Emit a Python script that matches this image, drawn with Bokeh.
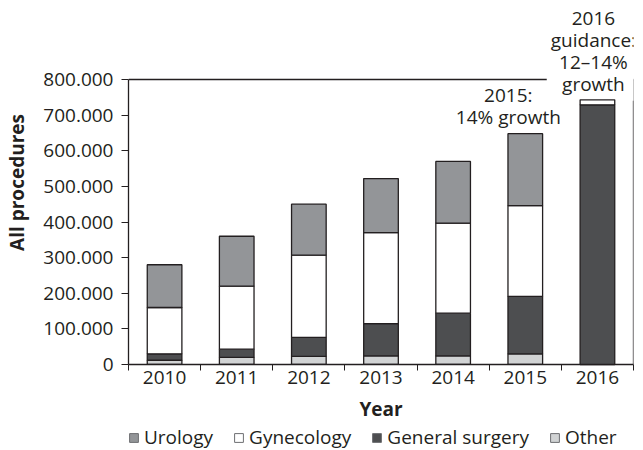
from bokeh.plotting import figure
from bokeh.layouts import column
from bokeh.models import (FixedTicker, Label, Legend, LegendItem, ColumnDataSource, Range1d)
from bokeh.embed import file_html
from bokeh.resources import INLINE

# ---- data ----
years = ["2010", "2011", "2012", "2013", "2014", "2015", "2016"]
other = [12000, 20000, 23000, 24000, 24000, 30000]
general_surgery = [18000, 23000, 53000, 91000, 120000, 161000]
gynecology = [130000, 177000, 231000, 255000, 253000, 255000]
urology = [120000, 140000, 143000, 152000, 173000, 202000]
guidance_low = 729000   # 2016 guidance, +12%
guidance_high = 743000  # 2016 guidance, +14%
y_ticks = [0, 100000, 200000, 300000, 400000, 500000, 600000, 700000, 800000]
y_tick_labels = ["0", "100.000", "200.000", "300.000", "400.000", "500.000",
                 "600.000", "700.000", "800.000"]
series_names = ["Other", "General surgery", "Gynecology", "Urology"]
series_colors = ["#d1d3d4", "#4d4e50", "#ffffff", "#939598"]
legend_order = ["Urology", "Gynecology", "General surgery", "Other"]
note_2015 = "2015:\n14% growth"
note_2016 = "2016\nguidance:\n12\u201314%\ngrowth"

INK = "#231f20"
FONT = "Open Sans"
FS = "19px"

# ---- layout constants (pixels) ----
W = 643
H_MAIN = 424
BORDER_L, BORDER_R, BORDER_B = 128, 10, 60
AXIS_TOP_PX = 79          # pixel row of the y-axis end (800.000)
plot_h = H_MAIN - BORDER_B
y_top = y_ticks[-1] * plot_h / (plot_h - AXIS_TOP_PX)   # headroom for annotations

n = len(other)
centers = [i + 0.5 for i in range(len(years))]
data = dict(x=centers[:n], Other=other, **{"General surgery": general_surgery},
            Gynecology=gynecology, Urology=urology)
src = ColumnDataSource(data)

p = figure(width=W, height=H_MAIN, output_backend="svg", toolbar_location=None,
           x_range=Range1d(0, len(years)), y_range=Range1d(0, y_top),
           min_border_left=BORDER_L, min_border_right=BORDER_R, min_border_top=0,
           min_border_bottom=BORDER_B)
p.xgrid.visible = False
p.ygrid.visible = False
p.outline_line_color = None
p.background_fill_color = "white"
p.border_fill_color = "white"

# box top and right edges (ending at the last y tick)
p.segment(x0=[0, len(years)], y0=[y_ticks[-1], 0], x1=[len(years), len(years)],
          y1=[y_ticks[-1], y_ticks[-1]], line_color=INK, line_width=1.3)

BAR_W = 0.48
rs = p.vbar_stack(series_names, x="x", width=BAR_W, source=src,
                  fill_color=series_colors, line_color=INK, line_width=1.3)

# 2016 guidance bar (drawn above the annotation box)
i16 = len(years) - 1
p.vbar(x=[centers[i16]], bottom=[0], top=[guidance_low], width=BAR_W,
       fill_color=series_colors[1], line_color=INK, line_width=1.3, level="overlay")
p.vbar(x=[centers[i16]], bottom=[guidance_low], top=[guidance_high], width=BAR_W,
       fill_color="white", line_color=INK, line_width=1.3, level="overlay")

# annotations
total_2015 = other[-1] + general_surgery[-1] + gynecology[-1] + urology[-1]
lab15 = Label(x=centers[n - 1], y=total_2015, text=note_2015, text_align="center",
              text_baseline="bottom", x_offset=-17, y_offset=4,
              text_font=FONT, text_font_size=FS, text_color=INK,
              text_line_height=0.84)
lab16 = Label(x=centers[i16], y=guidance_high, text=note_2016, text_align="center",
              text_baseline="bottom", x_offset=-4, y_offset=-1,
              text_font=FONT, text_font_size=FS, text_color=INK,
              text_line_height=0.84,
              background_fill_color="white", padding=4)
p.add_layout(lab15)
p.add_layout(lab16)

# axes
xa = p.xaxis[0]
xa.ticker = FixedTicker(ticks=centers, minor_ticks=list(range(len(years) + 1)))
xa.major_label_overrides = {c: y for c, y in zip(centers, years)}
xa.major_tick_out = 0
xa.major_tick_in = 0
xa.minor_tick_out = 6
xa.minor_tick_in = 0
xa.minor_tick_line_color = INK
xa.axis_line_color = INK
xa.axis_line_width = 1.3
xa.major_label_standoff = 0
xa.major_label_text_font = FONT
xa.major_label_text_font_size = FS
xa.major_label_text_color = INK
xa.axis_label = "Year"
xa.axis_label_text_font = FONT
xa.axis_label_text_font_size = FS
xa.axis_label_text_font_style = "bold"
xa.axis_label_text_color = INK
xa.axis_label_standoff = 9

ya = p.yaxis[0]
ya.ticker = FixedTicker(ticks=y_ticks, minor_ticks=[])
ya.bounds = (y_ticks[0], y_ticks[-1])
ya.major_label_overrides = {t: l for t, l in zip(y_ticks, y_tick_labels)}
ya.major_tick_out = 7
ya.major_tick_in = 0
ya.major_tick_line_color = INK
ya.axis_line_color = INK
ya.axis_line_width = 1.3
ya.major_label_standoff = 8
ya.major_label_text_font = FONT
ya.major_label_text_font_size = FS
ya.major_label_text_color = INK
ya.axis_label = "All procedures"
ya.axis_label_text_font = FONT
ya.axis_label_text_font_size = FS
ya.axis_label_text_font_style = "bold"
ya.axis_label_text_color = INK
ya.axis_label_standoff = 10

# ---- legend strip (separate figure below the chart) ----
lf = figure(width=W, height=450 - H_MAIN, output_backend="svg", toolbar_location=None,
            x_range=Range1d(0, len(years)), y_range=Range1d(0, y_ticks[-1]),
            min_border=0)
lf.axis.visible = False
lf.grid.visible = False
lf.outline_line_color = None
lf.border_fill_color = "white"
lf_src = ColumnDataSource(data)
lrs = lf.vbar_stack(series_names, x="x", width=BAR_W, source=lf_src,
                    fill_color=series_colors, line_color="#6d6e71", line_width=1)
for r in lrs:
    r.visible = False
items = [LegendItem(label=name, renderers=[lrs[series_names.index(name)]])
         for name in legend_order]
legend = Legend(items=items, orientation="horizontal", location=(0, 0),
                glyph_width=11, glyph_height=11, label_standoff=5, spacing=20,
                padding=0, margin=0, border_line_alpha=0, background_fill_alpha=0,
                inactive_fill_alpha=0,
                label_text_font=FONT, label_text_font_size=FS, label_text_color=INK)
lf.add_layout(legend)

layout = column(p, lf, spacing=0)
open("out.html", "w").write(file_html(layout, INLINE))
